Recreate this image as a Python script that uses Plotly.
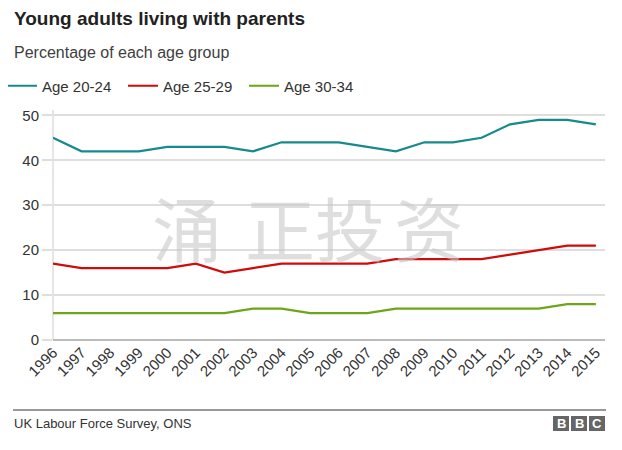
import plotly.graph_objects as go

years = list(range(1996, 2016))
age_20_24 = [45, 42, 42, 42, 43, 43, 43, 42, 44, 44, 44, 43, 42, 44, 44, 45, 48, 49, 49, 48]
age_25_29 = [17, 16, 16, 16, 16, 17, 15, 16, 17, 17, 17, 17, 18, 18, 18, 18, 19, 20, 21, 21]
age_30_34 = [6, 6, 6, 6, 6, 6, 6, 7, 7, 6, 6, 6, 7, 7, 7, 7, 7, 7, 8, 8]
series_names = ["Age 20-24", "Age 25-29", "Age 30-34"]
series_colors = ["#168a8c", "#d10a0a", "#6ea516"]
y_ticks = [0, 10, 20, 30, 40, 50]
watermark_chars = ["涌", "正", "投", "资"]

FONT = "Liberation Sans, Arial, Helvetica, sans-serif"

# page body margin offset (browser default) compensated
OFF = 8
# plot area in window pixels
L, R, T, B = 53, 605, 114, 340
W, H = 622 - OFF, 450 - OFF


def px(x):
    return (x - L) / (R - L)


def py(y):
    return (B - y) / (B - T)


fig = go.Figure()
for name, vals, col in zip(series_names, [age_20_24, age_25_29, age_30_34], series_colors):
    fig.add_trace(go.Scatter(x=years, y=vals, name=name, mode="lines",
                             line=dict(color=col, width=2.2), hoverinfo="x+y+name"))

annotations = [
    dict(text="<b>Young adults living with parents</b>", x=px(12), y=py(18), xref="paper", yref="paper",
         xanchor="left", yanchor="middle", showarrow=False, font=dict(family=FONT, size=19, color="#222222")),
    dict(text="Percentage of each age group", x=px(12), y=py(52), xref="paper", yref="paper",
         xanchor="left", yanchor="middle", showarrow=False, font=dict(family=FONT, size=16, color="#404040")),
    dict(text="UK Labour Force Survey, ONS", x=px(12), y=py(423), xref="paper", yref="paper",
         xanchor="left", yanchor="middle", showarrow=False, font=dict(family=FONT, size=13, color="#333333")),
]

for ch, cx in zip(watermark_chars, [187, 280, 350, 429]):
    annotations.append(dict(text=ch, x=px(cx), y=py(226), xref="paper", yref="paper",
                            xanchor="center", yanchor="middle", showarrow=False,
                            font=dict(family="Noto Sans CJK SC", size=70, color="rgba(200,200,200,0.6)")))

shapes = [
    dict(type="line", xref="paper", yref="paper", x0=px(13), x1=px(606), y0=py(410), y1=py(410),
         line=dict(color="#333333", width=1)),
]

for i, letter in enumerate("BBC"):
    x0 = 553 + i * 18
    shapes.append(dict(type="rect", xref="paper", yref="paper", x0=px(x0), x1=px(x0 + 16),
                       y0=py(431), y1=py(416), fillcolor="#666666", line=dict(width=0)))
    annotations.append(dict(text="<b>%s</b>" % letter, x=px(x0 + 8), y=py(423.5), xref="paper", yref="paper",
                            xanchor="center", yanchor="middle", showarrow=False,
                            font=dict(family=FONT, size=13, color="white")))

fig.update_layout(
    width=W, height=H,
    margin=dict(l=L - OFF, r=622 - R, t=T - OFF, b=450 - B, pad=0, autoexpand=False),
    paper_bgcolor="white", plot_bgcolor="white",
    font=dict(family=FONT, size=14, color="#333333"),
    showlegend=True,
    legend=dict(orientation="h", x=px(2), y=py(86), xanchor="left", yanchor="middle",
                entrywidth=76, entrywidthmode="pixels", itemclick=False,
                font=dict(family=FONT, size=15, color="#333333"), bgcolor="rgba(0,0,0,0)",
                tracegroupgap=0, itemwidth=30),
    xaxis=dict(range=[1996, 2015.32], tickvals=years, ticktext=[str(y) for y in years],
               tickangle=-45, showgrid=False, zeroline=False, showline=False, ticks="",
               tickfont=dict(size=15, color="#333333"), fixedrange=True, automargin=False),
    yaxis=dict(range=[0, 50.3], tickvals=y_ticks, showgrid=True, gridcolor="#dedede", gridwidth=1.5,
               zeroline=False, showline=False, ticks="outside", ticklen=10, tickcolor="#dedede",
               tickwidth=1.5, tickfont=dict(size=15, color="#333333"), fixedrange=True, automargin=False),
    annotations=annotations,
    shapes=shapes + [
        dict(type="line", xref="paper", yref="paper", x0=0, x1=0, y0=0, y1=py(T - 4),
             line=dict(color="#dedede", width=1.5), layer="below"),
        dict(type="line", xref="paper", yref="paper", x0=0, x1=1, y0=0, y1=0,
             line=dict(color="#bbbbbb", width=2), layer="above"),
    ],
)

fig.write_html("out.html")
